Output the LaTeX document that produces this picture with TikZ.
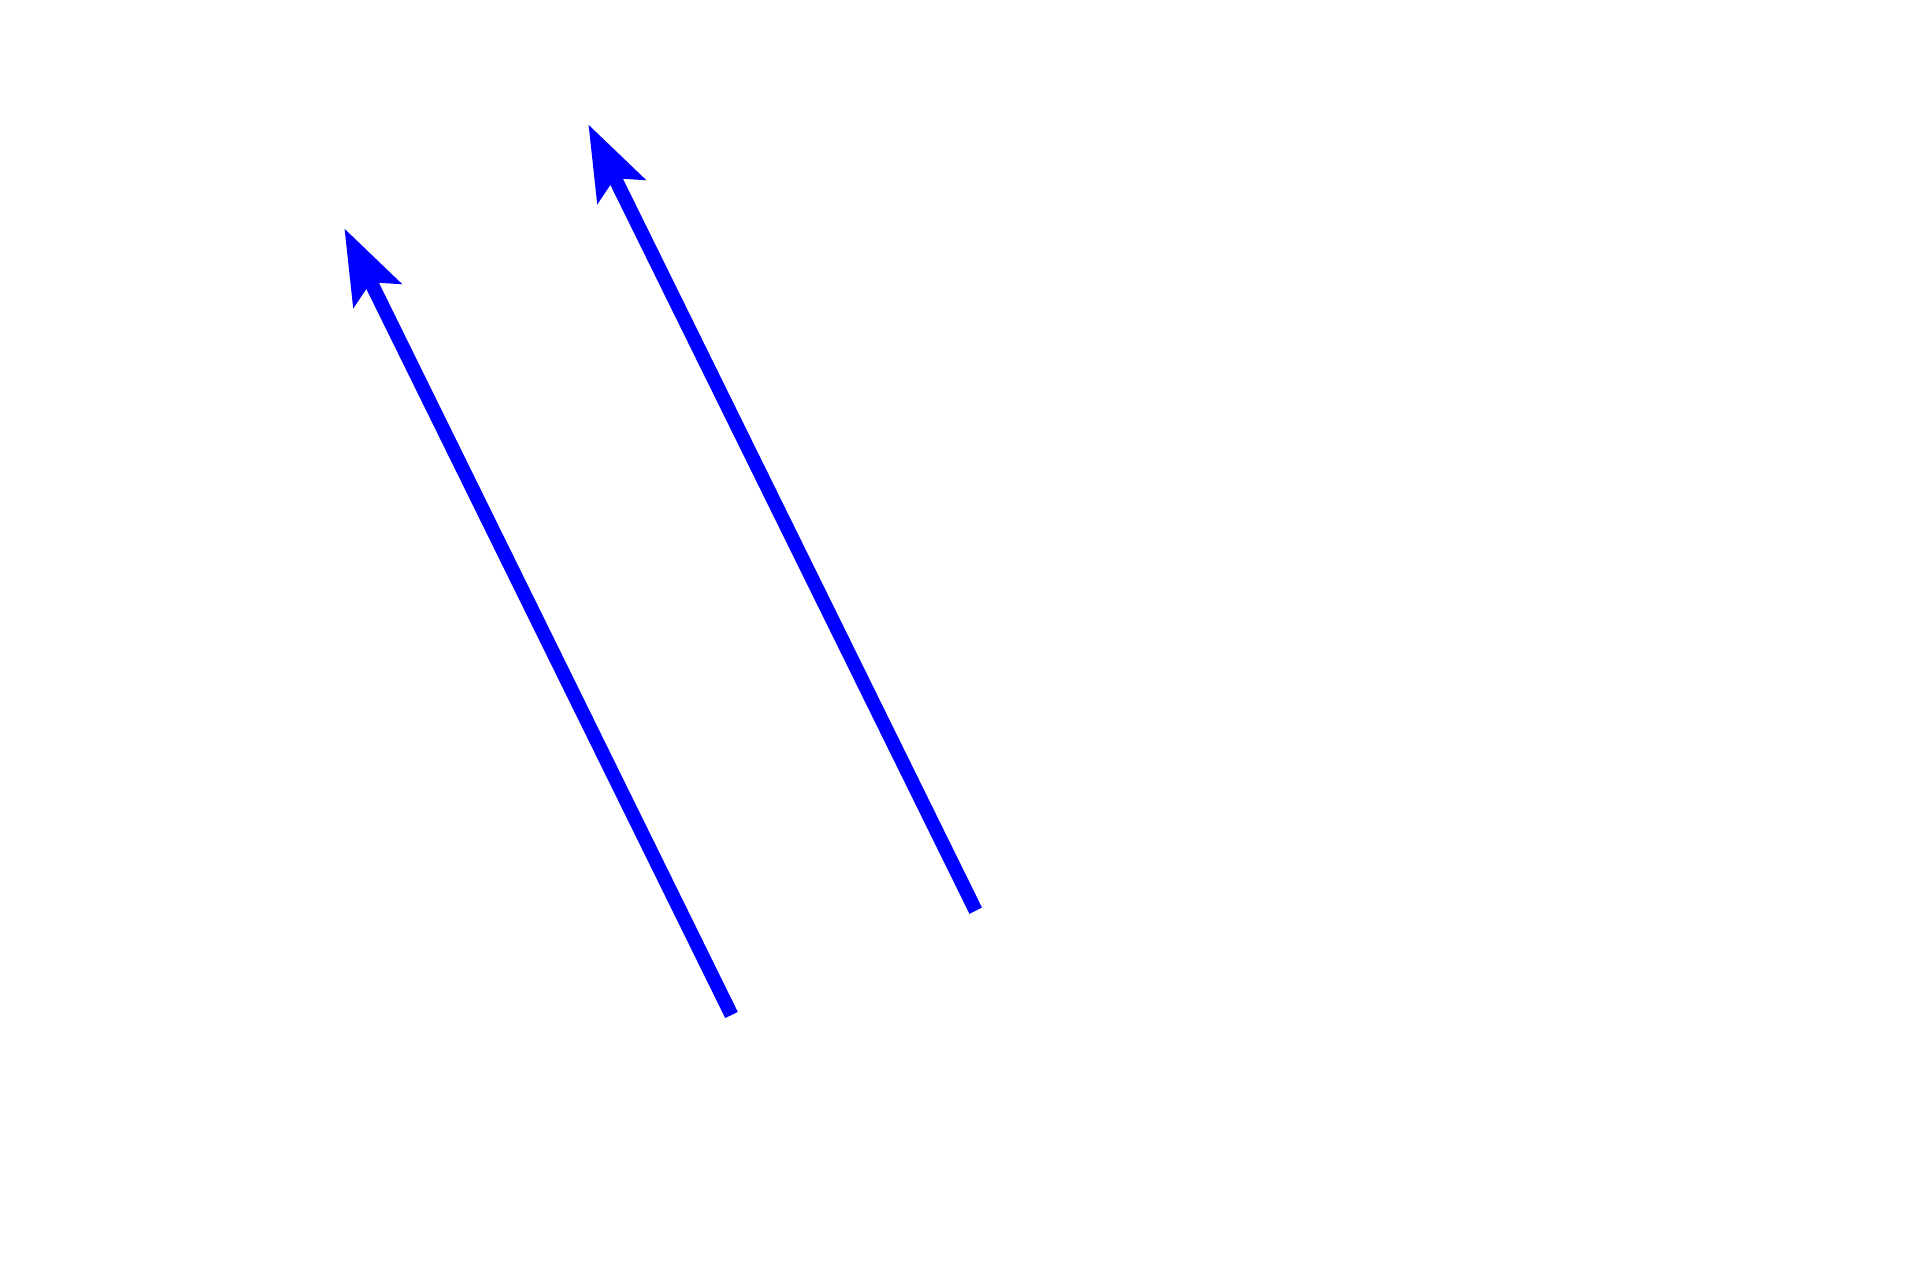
\documentclass[tikz,border=0pt]{standalone}
\usetikzlibrary{arrows.meta}
\begin{document}
\begin{tikzpicture}[x=0.75pt,y=-0.75pt,
  bluearrow/.style={draw={rgb,255:red,0;green,0;blue,255}, line width=10.5pt, line cap=butt,
    -{Stealth[length=55.5pt,width=39pt,inset=10.5pt]}}]
\useasboundingbox (0,0) rectangle (1920,1280);
\coordinate (s1) at (731.5,1015);
\coordinate (t1) at (344.3,228.3);
\coordinate (s2) at (975.7,910.7);
\coordinate (t2) at (588.3,124.3);
\draw[bluearrow] (s1) -- (t1);
\draw[bluearrow] (s2) -- (t2);
\end{tikzpicture}
\end{document}
